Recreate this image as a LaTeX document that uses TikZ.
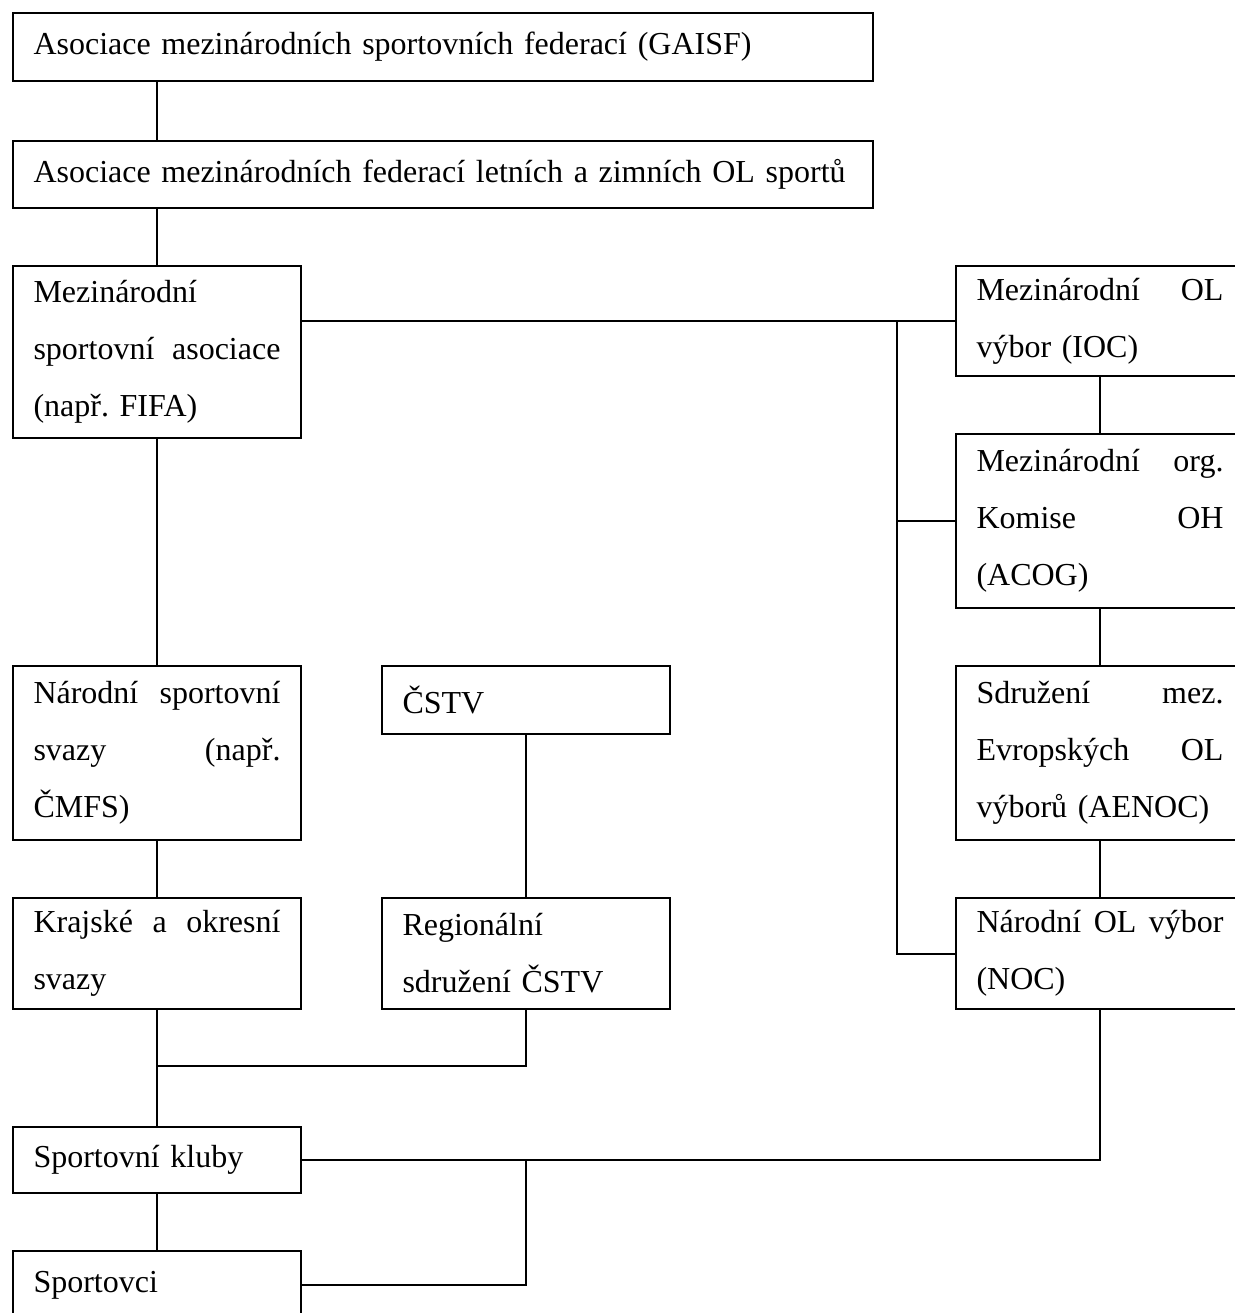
\documentclass[tikz,border=0pt]{standalone}
\usepackage{fontspec}
\setmainfont{Liberation Serif}
\frenchspacing

% one justified line of a small box (words split by \hfill)
\newcommand{\jline}[1]{\leavevmode\hbox to 123.5pt{#1}}

\tikzset{
  box/.style={draw=black, line width=1pt, anchor=north west, inner xsep=10.25pt,
    inner ysep=0pt, align=left, font=\fontsize{16}{28.5}\selectfont},
  widebox/.style={box, text width=409.5pt},
  smallbox/.style={box, text width=123.5pt},
  link/.style={black, line width=1pt}
}

\begin{document}
\begin{tikzpicture}[x=0.5pt, y=-0.5pt]
    \useasboundingbox (0,0) rectangle (1235,1313);
    \clip (0,0) rectangle (1235,1313);

    % international level
    \node[widebox, minimum height=34pt] (gaisf) at (12,12) {Asociace mezinárodních sportovních federací (GAISF)};
    \node[widebox, minimum height=33.5pt] (olsport) at (12,140) {Asociace mezinárodních federací letních a zimních OL sportů};
    \node[smallbox, minimum height=86pt] (msa) at (12,265) {Mezinárodní\\ \jline{sportovní\hfill asociace}\\ (např. FIFA)};

    % olympic column
    \node[smallbox, minimum height=55pt] (ioc) at (955,265) {\jline{Mezinárodní\hfill OL}\\ výbor (IOC)};
    \node[smallbox, minimum height=87pt] (acog) at (955,433) {\jline{Mezinárodní\hfill org.}\\ \jline{Komise\hfill OH}\\ (ACOG)};
    \node[smallbox, minimum height=87pt] (aenoc) at (955,665) {\jline{Sdružení\hfill mez.}\\ \jline{Evropských\hfill OL}\\ výborů (AENOC)};
    \node[smallbox, minimum height=55.5pt] (noc) at (955,897) {\jline{Národní\hfill OL\hfill výbor}\\ (NOC)};

    % national level
    \node[smallbox, minimum height=87pt] (nss) at (12,665) {\jline{Národní\hfill sportovní}\\ \jline{svazy\hfill (např.}\\ ČMFS)};
    \node[smallbox, minimum height=34pt] (cstv) at (381,665) {ČSTV};
    \node[smallbox, minimum height=55.5pt] (kos) at (12,897) {\jline{Krajské\hfill a\hfill okresní}\\ svazy};
    \node[smallbox, minimum height=55.5pt] (reg) at (381,897) {Regionální\\ sdružení ČSTV};
    \node[smallbox, minimum height=33pt] (kluby) at (12,1126) {Sportovní kluby};
    \node[smallbox, minimum height=34pt] (sportovci) at (12,1250) {Sportovci};

    \coordinate (bus) at (897,0);
    \coordinate (kj) at (156,1066);

    % connectors
    \draw[link] (gaisf.south -| msa.north) -- (olsport.north -| msa.north);
    \draw[link] (olsport.south -| msa.north) -- (msa.north);
    \draw[link] (msa.east |- ioc.west) -- (ioc.west);
    \draw[link] (ioc.west -| bus) |- (noc.west);
    \draw[link] (acog.west -| bus) -- (acog.west);
    \draw[link] (ioc.south) -- (acog.north);
    \draw[link] (acog.south) -- (aenoc.north);
    \draw[link] (aenoc.south) -- (noc.north);
    \draw[link] (msa.south) -- (nss.north);
    \draw[link] (nss.south) -- (kos.north);
    \draw[link] (cstv.south) -- (reg.north);
    \draw[link] (kos.south) -- (kluby.north);
    \draw[link] (reg.south) |- (kj);
    \draw[link] (noc.south) |- (kluby.east);
    \draw[link] (kluby.east -| reg.south) |- (sportovci.east);
    \draw[link] (kluby.south) -- (sportovci.north);
\end{tikzpicture}
\end{document}
